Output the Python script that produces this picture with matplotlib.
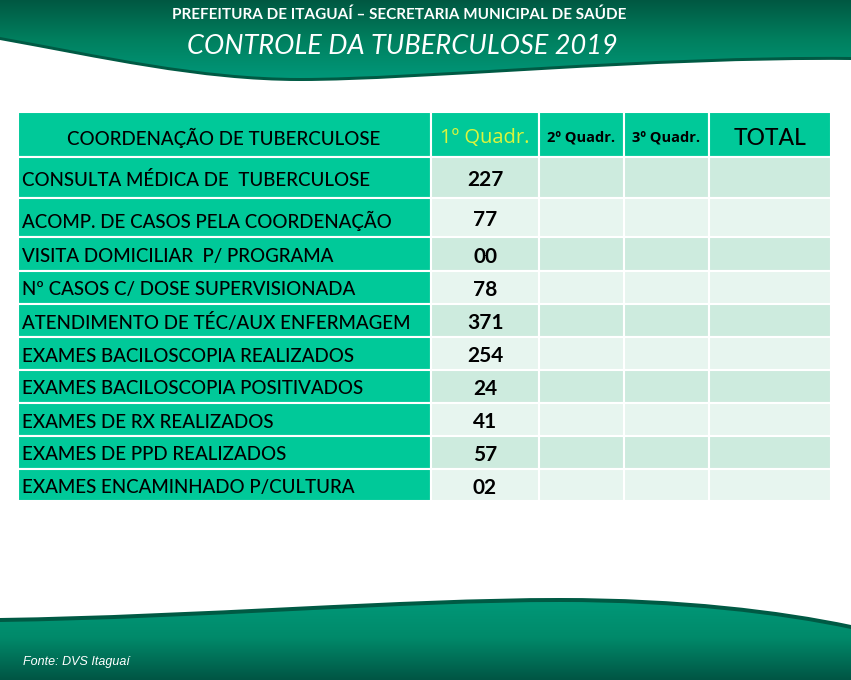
import numpy as np
import matplotlib
matplotlib.use('Agg')
import matplotlib.pyplot as plt
from matplotlib.path import Path
from matplotlib.patches import PathPatch, Rectangle
from matplotlib.colors import LinearSegmentedColormap

# data
indicadores = ['CONSULTA MÉDICA DE  TUBERCULOSE',
               'ACOMP. DE CASOS PELA COORDENAÇÃO',
               'VISITA DOMICILIAR  P/ PROGRAMA',
               'Nº CASOS C/ DOSE SUPERVISIONADA',
               'ATENDIMENTO DE TÉC/AUX ENFERMAGEM',
               'EXAMES BACILOSCOPIA REALIZADOS',
               'EXAMES BACILOSCOPIA POSITIVADOS',
               'EXAMES DE RX REALIZADOS',
               'EXAMES DE PPD REALIZADOS',
               'EXAMES ENCAMINHADO P/CULTURA']
quadr1 = ['227', '77', '00', '78', '371', '254', '24', '41', '57', '02']
cabecalho = ['COORDENAÇÃO DE TUBERCULOSE', '1º Quadr.', '2º Quadr.', '3º Quadr.', 'TOTAL']

plt.rcParams['font.family'] = ['Lato', 'DejaVu Sans']

fig = plt.figure(figsize=(8.51, 6.80), dpi=100)
ax = fig.add_axes([0, 0, 1, 1])
ax.set_xlim(0, 851)
ax.set_ylim(680, 0)
ax.axis('off')

W = 851
M, L, C4, CL = Path.MOVETO, Path.LINETO, Path.CURVE4, Path.CLOSEPOLY


def banner(verts, codes, y0, y1, cmap, z=1):
    patch = PathPatch(Path(verts, codes), facecolor='none', edgecolor='none')
    ax.add_patch(patch)
    grad = np.linspace(0, 1, 200).reshape(-1, 1)
    im = ax.imshow(grad, extent=[0, W, y1, y0], origin='upper', cmap=cmap,
                   aspect='auto', zorder=z)
    im.set_clip_path(patch)


def top_shape(d):
    return [(0, 0), (W, 0), (W, 57 + d),
            (650, 55 + d), (420, 78 + d), (300, 78 + d),
            (200, 78 + d), (100, 55 + d), (0, 37 + d), (0, 0)]


def bottom_shape(d):
    return [(0, 680), (0, 618 + d),
            (200, 615 + d), (400, 598 + d), (560, 598 + d),
            (680, 598 + d), (780, 610 + d), (W, 625 + d), (W, 680), (0, 680)]


codes_top = [M, L, L, C4, C4, C4, C4, C4, C4, CL]
codes_bot = [M, L, C4, C4, C4, C4, C4, C4, L, CL]

top_cmap = LinearSegmentedColormap.from_list('t', ['#005842', '#00805f', '#00987a'])
bot_cmap = LinearSegmentedColormap.from_list('b', ['#009a7a', '#008a6a', '#005544'])
shadow = LinearSegmentedColormap.from_list('s', ['#005a44', '#005a44'])

banner(top_shape(3), codes_top, 0, 90, shadow)
banner(top_shape(0), codes_top, 0, 80, top_cmap, z=2)
banner(bottom_shape(0), codes_bot, 595, 680, shadow)
banner(bottom_shape(4), codes_bot, 595, 680, bot_cmap, z=2)

ax.text(399, 15, 'PREFEITURA DE ITAGUAÍ – SECRETARIA MUNICIPAL DE SAÚDE', color='white',
        fontsize=11, fontweight='bold', ha='center', va='center', zorder=5)
ax.text(402, 47, 'CONTROLE DA TUBERCULOSE 2019', color='white', fontsize=19.5,
        fontstyle='italic', ha='center', va='center', zorder=5)
ax.text(23, 662, 'Fonte: DVS Itaguaí', color='white', fontsize=9, fontstyle='italic',
        family=['Liberation Sans Narrow', 'Liberation Sans', 'DejaVu Sans'],
        ha='left', va='center', zorder=5)

# table
col_edges = [18, 431, 539, 624, 709, 831]
row_edges = [112, 157, 198, 237, 270.5, 303.5, 336.5, 369.5, 402.5, 435.5, 468.5, 501]
teal = '#00c999'
dark_row = '#cdebde'
light_row = '#e7f5ef'

for r in range(len(row_edges) - 1):
    y0, y1 = row_edges[r], row_edges[r + 1]
    for c in range(len(col_edges) - 1):
        x0, x1 = col_edges[c], col_edges[c + 1]
        if r == 0 or c == 0:
            fc = teal
        else:
            fc = dark_row if (r - 1) % 2 == 0 else light_row
        ax.add_patch(Rectangle((x0, y0), x1 - x0, y1 - y0, facecolor=fc,
                               edgecolor='white', linewidth=1.5, zorder=3))

ofs = 3
hy = (row_edges[0] + row_edges[1]) / 2 + ofs
hx = [(col_edges[i] + col_edges[i + 1]) / 2 for i in range(5)]
ordfont = ['Open Sans', 'DejaVu Sans']
ax.text(hx[0] - 1, hy, cabecalho[0], fontsize=13.5, fontweight='medium',
        ha='center', va='center', zorder=5)
ax.text(hx[1], hy, cabecalho[1], fontsize=14.5, color='#dcf53c', family=ordfont,
        ha='center', va='center', zorder=5)
ax.text(hx[2], hy, cabecalho[2], fontsize=10.5, fontweight='bold', family=ordfont,
        ha='center', va='center', zorder=5)
ax.text(hx[3], hy, cabecalho[3], fontsize=10.5, fontweight='bold', family=ordfont,
        ha='center', va='center', zorder=5)
ax.text(hx[4], hy + 1, cabecalho[4], fontsize=16.5, fontweight='medium',
        ha='center', va='center', zorder=5)

for i, (lab, val) in enumerate(zip(indicadores, quadr1)):
    yc = (row_edges[i + 1] + row_edges[i + 2]) / 2 + ofs
    ax.text(22, yc, lab, fontsize=13.5, fontweight='medium', ha='left', va='center', zorder=5)
    ax.text(hx[1], yc, val, fontsize=15, fontweight='bold', ha='center', va='center', zorder=5)

fig.savefig('out.png', dpi=100)
